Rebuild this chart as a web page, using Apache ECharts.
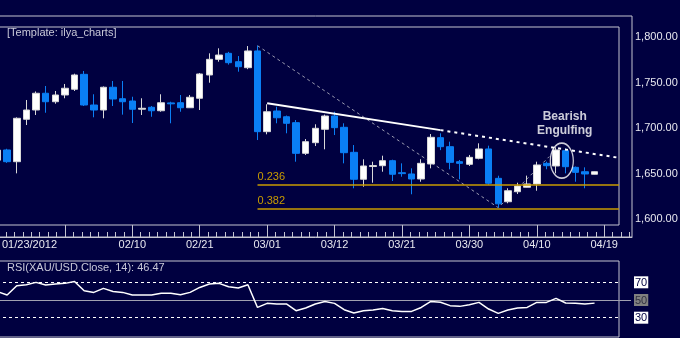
<!DOCTYPE html>
<html><head><meta charset="utf-8">
<script src="https://cdn.jsdelivr.net/npm/echarts@6/dist/echarts.min.js"></script>
<style>html,body{margin:0;padding:0;background:#000040;}#c{width:680px;height:338px;}</style>
</head><body><div id="c"></div>
<script>
// ---------- data ----------
const dates = ['01/23/2012','01/24','01/25','01/26','01/27','01/30','01/31','02/01','02/02','02/03',
  '02/06','02/07','02/08','02/09','02/10','02/13','02/14','02/15','02/16','02/17',
  '02/20','02/21','02/22','02/23','02/24','02/27','02/28','02/29','03/01','03/02',
  '03/05','03/06','03/07','03/08','03/09','03/12','03/13','03/14','03/15','03/16',
  '03/19','03/20','03/21','03/22','03/23','03/26','03/27','03/28','03/29','03/30',
  '04/02','04/03','04/04','04/05','04/06','04/09','04/10','04/11','04/12','04/13',
  '04/16','04/17','04/18','04/19'];
const opens  = [1665,1676.2,1663.3,1709.9,1720.1,1738.5,1729.2,1736.6,1742.9,1759.3,
  1725.6,1720.1,1745.1,1732.5,1730,1721,1723.1,1719.3,1727.9,1728.1,
  1722.6,1733,1758.6,1775.8,1782.4,1773.2,1766.6,1785,1696.3,1719,
  1712.7,1706.2,1672.5,1684.2,1698.9,1713.5,1701.1,1673.6,1644,1658,
  1658.9,1664.4,1651.2,1649.8,1644.3,1660.8,1689.7,1679.8,1663.3,1660.4,
  1667,1677.3,1645,1619.3,1630.3,1635.2,1638.8,1661.5,1658.6,1675.4,
  1657.1,1652.3,1649.5];
const closes = [1676,1663.3,1711,1720.1,1738.5,1729.2,1736.6,1744,1758.6,1725.6,
  1720.1,1745.1,1732.2,1729.2,1720.9,1722,1719.3,1728.1,1726.9,1722.6,
  1734.1,1759.7,1775.8,1780.5,1772.1,1767.7,1785,1696.3,1718.2,1711.6,
  1705.5,1672.5,1685.3,1700,1713.5,1700.7,1673.2,1644,1658.6,1659,
  1664.4,1649.5,1650.2,1644.3,1661.5,1690.1,1679.8,1662.6,1661.5,1668.1,
  1677.3,1639.6,1617,1631.4,1636.6,1638.8,1659.7,1658.9,1676.2,1657.8,
  1651.6,1649.8,1652.3];
const lows   = [1660,1662,1650.5,1703.6,1714.6,1717.1,1727,1733,1741,1724.5,
  1712.1,1711,1724.5,1715,1705.8,1714.6,1712.7,1718.2,1705.5,1718.2,
  1722.3,1720.1,1750.1,1773.2,1770,1762.2,1765,1687.1,1693.4,1705.5,
  1694.5,1663.3,1670.7,1680.5,1676.9,1692.6,1661.5,1634.1,1635.8,1640.2,
  1652.3,1642.1,1646.8,1627.5,1641.3,1656,1676,1654.9,1644,1658.6,
  1665.9,1638,1612.8,1617.6,1627.8,1635,1631.4,1655,1650.5,1650.5,
  1641.3,1634.1,1649.3];
const highs  = [1680,1677.5,1712,1731.1,1740.5,1746.5,1741,1748.7,1760,1763,
  1737.4,1746,1752,1752,1734.7,1733,1724.5,1737.4,1729.2,1736.6,
  1736.6,1760.8,1782.4,1787.9,1784,1779.4,1790.4,1790.8,1726.4,1723.7,
  1714,1709.1,1688.2,1704.4,1715,1718.2,1705.5,1681.6,1665.9,1663.3,
  1669.9,1665.5,1661.5,1656,1666,1693.7,1694.5,1685.3,1665.2,1670.7,
  1683.5,1680.9,1647.9,1634.1,1640.2,1648,1663.3,1663.3,1679.1,1678,
  1658,1657.1,1652.5];
const rsiValues = [59.4,55.6,66.2,67.3,69.9,66.9,68.1,68.8,71.0,60.5,
  58.6,63.1,59.7,58.6,55.6,55.6,55.6,57.5,57.5,56.0,
  58.6,64.2,68.1,68.8,65.0,63.6,67.3,41.6,46.2,45.5,
  45.5,37.9,41.0,45.5,48.4,46.2,39.0,35.3,37.9,38.7,
  40.5,37.9,37.1,37.1,41.6,48.4,47.5,43.6,42.8,44.7,
  47.3,39.8,34.9,38.7,41.0,41.6,47.3,47.3,51.8,46.6,
  46.2,45.5,46.47];
const rsiTitle = 'RSI(XAU/USD.Close, 14): 46.47';
const templateTitle = '[Template: ilya_charts]';
const priceTicks = [1600,1650,1700,1750,1800];
const rsiLabelTicks = [30,50,70];
const dateTickIdx = [0,7,14,21,28,35,42,49,56,63];
const dateLabelIdx = [0,14,21,28,35,42,49,56,63];
const fibLevels = [['0.236',1638.5],['0.382',1611.6]];
const fibStartIdx = 27;
const resistanceSolid = [[28,1727.5],[46,1698]];
const resistanceDotted = [[46,1698],[66,1665.2]];
const swingDashed = [[27,1790.8],[52,1612.8],[57.3,1669]];
const patternCenter = [58.6,1664.4];
const patternLabelPos = [58.9,1704.7];
const patternText = 'Bearish\nEngulfing';

// ---------- layout ----------
const BAR_PX = 9.63, BAR0_X = -2.5, LEFT = -3;
const idxAt = px => (px - BAR0_X) / BAR_PX;
const priceAt = py => 1800 - (py - 37.3) / 0.91;
const rsiAt = py => 50 - (py - 300) / 0.885;
const W = 680, H = 338;
const FRAME = '#c4c4d0', TXT = '#e8e8f0', BLUE = '#0a7ff5', GOLD = '#c89b00';
const FONT = 'Liberation Sans';

const candles = opens.map((o, i) => [i, o, closes[i], lows[i], highs[i]]);
const rsiData = rsiValues.map((v, i) => [i, v]);
const xMinor = []; for (let k = 0; k * 0.875 < idxAt(632); k++) if (k % 8) xMinor.push(k * 0.875);
const yMinor = []; for (let p = 1585; p <= 1810; p += 5) yMinor.push(p);
const rMinor = []; for (let r = 10; r <= 92.5; r += 2.5) rMinor.push(r);

const gridBase = {outerBoundsMode:'none', containLabel:false, backgroundColor:'transparent', borderColor:FRAME, borderWidth:1};
const hiddenX = (g, maxPx) => ({type:'value', gridIndex:g, min:idxAt(LEFT), max:idxAt(maxPx), show:false});
const option = {
  backgroundColor: '#000040',
  animation: false,
  textStyle: {fontFamily: FONT},
  title: [
    {text: templateTitle, left: 7, top: 27, padding: 0, textStyle: {color: '#c8c8d8', fontSize: 11, fontWeight: 'normal', fontFamily: FONT}},
    {text: rsiTitle, left: 7, top: 262, padding: 0, textStyle: {color: '#c8c8d8', fontSize: 11, fontWeight: 'normal', fontFamily: FONT}}
  ],
  grid: [
    Object.assign({left: LEFT, top: 27, right: W - 619, bottom: H - 225, show: true}, gridBase),
    Object.assign({left: LEFT, top: 16, right: W - 632, bottom: H - 237, show: true}, gridBase),
    Object.assign({left: LEFT, top: 261, right: W - 619, bottom: 1, show: true}, gridBase),
    Object.assign({left: LEFT, top: 261, right: W - 631, bottom: 1, show: false}, gridBase)
  ],
  xAxis: [
    hiddenX(0, 619),
    {type:'value', gridIndex:1, position:'bottom', min:idxAt(LEFT), max:idxAt(632),
      axisLine:{show:true, lineStyle:{color:FRAME}}, splitLine:{show:false},
      axisTick:{show:true, inside:true, length:12, customValues:dateTickIdx, lineStyle:{color:FRAME}},
      axisLabel:{show:true, customValues:dateLabelIdx, color:TXT, fontSize:11, margin:2, fontFamily:FONT,
        formatter: v => Math.round(v) === 0 ? '{first|' + dates[0] + '}' : dates[Math.round(v)],
        rich:{first:{color:TXT, fontSize:11, fontFamily:FONT, padding:[0,0,0,64]}}}},
    {type:'value', gridIndex:1, position:'bottom', offset:0, min:idxAt(LEFT), max:idxAt(632),
      axisLine:{show:false}, splitLine:{show:false}, axisLabel:{show:false},
      axisTick:{show:true, inside:true, length:5, customValues:xMinor, lineStyle:{color:FRAME}}},
    hiddenX(2, 619),
    hiddenX(3, 631)
  ],
  yAxis: [
    {type:'value', gridIndex:0, min:priceAt(225), max:priceAt(27), show:false},
    {type:'value', gridIndex:1, position:'right', min:priceAt(237), max:priceAt(16),
      axisLine:{show:true, lineStyle:{color:FRAME}}, splitLine:{show:false},
      axisTick:{show:true, inside:true, length:13, customValues:priceTicks, lineStyle:{color:FRAME}},
      axisLabel:{show:true, customValues:priceTicks, color:TXT, fontSize:11, margin:3, fontFamily:FONT,
        formatter: v => v.toLocaleString('en-US', {minimumFractionDigits:2, maximumFractionDigits:2})}},
    {type:'value', gridIndex:1, position:'right', offset:0, min:priceAt(237), max:priceAt(16),
      axisLine:{show:false}, splitLine:{show:false}, axisLabel:{show:false},
      axisTick:{show:true, inside:true, length:4, customValues:yMinor, lineStyle:{color:FRAME}}},
    {type:'value', gridIndex:2, min:rsiAt(337), max:rsiAt(261), show:false},
    {type:'value', gridIndex:3, position:'right', min:rsiAt(337), max:rsiAt(261),
      axisLine:{show:true, lineStyle:{color:FRAME}}, splitLine:{show:false},
      axisTick:{show:true, inside:true, length:4, customValues:rMinor, lineStyle:{color:FRAME}},
      axisLabel:{show:true, customValues:rsiLabelTicks, margin:3, fontSize:11, fontFamily:FONT,
        formatter: v => v === 50 ? '{g|' + v + '}' : '{w|' + v + '}',
        rich:{w:{backgroundColor:'#ffffff', color:'#000040', padding:[1,1,0,1], fontSize:11, fontFamily:FONT},
              g:{backgroundColor:'#808080', color:'#303040', padding:[1,1,0,1], fontSize:11, fontFamily:FONT}}}},
    {type:'value', gridIndex:3, position:'right', offset:0, min:rsiAt(337), max:rsiAt(261),
      axisLine:{show:false}, axisLabel:{show:false},
      axisTick:{show:false, customValues:[50]},
      splitLine:{show:true, lineStyle:{color:'#a0a0b0', width:1}}}
  ],
  series: [
    {type:'line', xAxisIndex:0, yAxisIndex:0, data:[], z:1, silent:true,
      markLine:{symbol:'none', silent:true, animation:false,
        lineStyle:{color:GOLD, width:1.5, type:'solid'},
        label:{show:true, position:'insideStartTop', color:GOLD, fontSize:11, fontFamily:FONT, distance:[0,2], formatter: p => p.name},
        data: fibLevels.map(f => [{name:f[0], coord:[fibStartIdx, f[1]]}, {coord:[idxAt(619), f[1]]}])}},
    {type:'line', xAxisIndex:0, yAxisIndex:0, data:swingDashed, showSymbol:false, z:2, clip:true,
      lineStyle:{color:'#9a9ab0', width:1, type:[3,3]}},
    {type:'candlestick', xAxisIndex:0, yAxisIndex:0, data:candles, z:3, barWidth:7,
      encode:{x:0, y:[1,2,3,4]},
      itemStyle:{color:'#ffffff', color0:BLUE, borderColor:'#d8d8d8', borderColor0:BLUE, borderWidth:1}},
    {type:'line', xAxisIndex:0, yAxisIndex:0, data:resistanceSolid, showSymbol:false, z:4, clip:true,
      lineStyle:{color:'#ffffff', width:2}},
    {type:'line', xAxisIndex:0, yAxisIndex:0, data:resistanceDotted, showSymbol:false, z:4, clip:true,
      lineStyle:{color:'#ffffff', width:2, type:[3,4]}},
    {type:'scatter', xAxisIndex:0, yAxisIndex:0, data:[patternCenter], z:5, symbol:'circle', symbolSize:[23,35],
      itemStyle:{color:'rgba(0,0,0,0)', borderColor:'#ffffff', borderWidth:1.5}},
    {type:'scatter', xAxisIndex:0, yAxisIndex:0, data:[patternLabelPos], z:5, symbolSize:1,
      itemStyle:{color:'rgba(0,0,0,0)'},
      label:{show:true, position:'inside', formatter:patternText, color:'#ffffff', fontWeight:'bold', fontSize:12, lineHeight:14, fontFamily:FONT}},
    {type:'line', xAxisIndex:3, yAxisIndex:3, data:rsiData, showSymbol:false, z:3,
      lineStyle:{color:'#ffffff', width:1.5},
      markLine:{symbol:'none', silent:true, label:{show:false},
        lineStyle:{color:'#ffffff', width:1, type:[3,3]},
        data:[{yAxis:70}, {yAxis:30}]}}
  ]
};
const chart = echarts.init(document.getElementById('c'), null, {renderer:'canvas'});
chart.setOption(option);
</script></body></html>
